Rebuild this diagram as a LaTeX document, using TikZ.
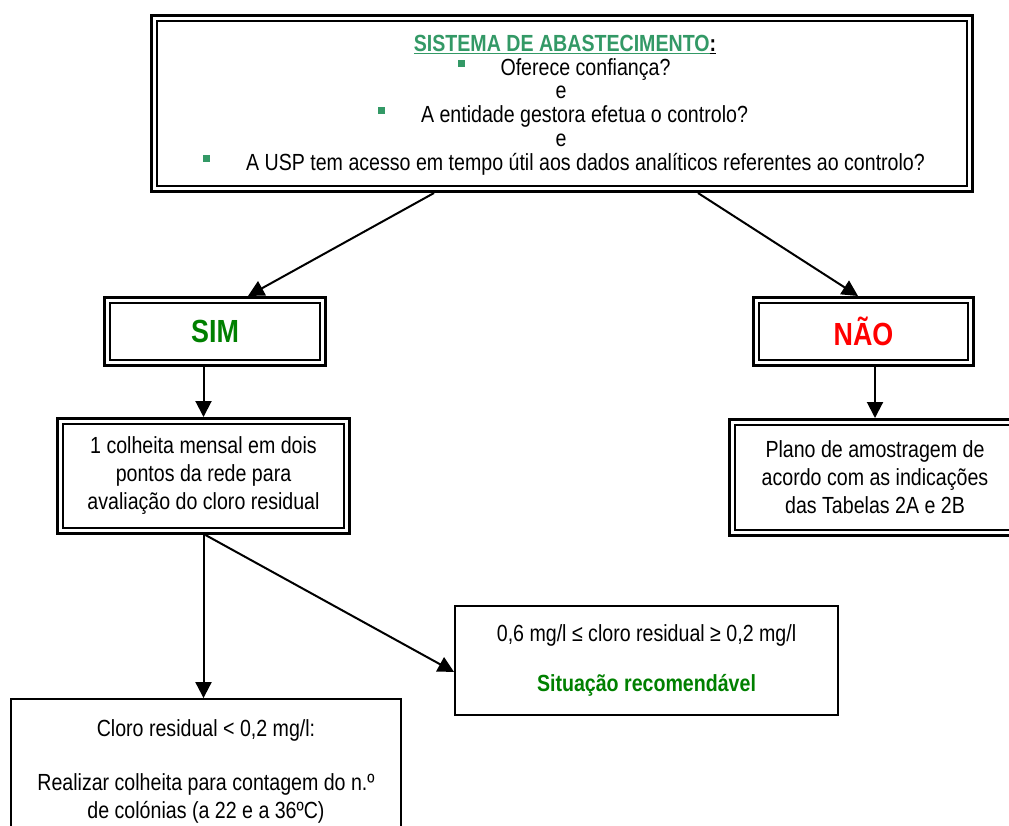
\documentclass[tikz,border=0pt]{standalone}
\usepackage{fontspec}
\setmainfont{Liberation Sans}[FakeStretch=0.84]
\usetikzlibrary{arrows.meta}
\definecolor{seagreen}{HTML}{339966}
\definecolor{simgreen}{HTML}{008000}
\definecolor{naored}{HTML}{FF0000}
\newcommand{\bsq}{\textcolor{seagreen}{\rule[6pt]{5.25pt}{5.25pt}}}
\tikzset{
  dbl/.style={draw, line width=2.25pt, inner sep=0pt, align=center},
  dblin/.style={line width=1.5pt},
  sgl/.style={draw, line width=1.4pt, inner sep=0pt, align=center},
  arr/.style={line width=1.5pt, -{Triangle[length=12pt,width=12pt]}},
  txt/.style={inner sep=0pt, anchor=base},
  big/.style={font=\fontsize{24}{28}\selectfont\bfseries}
}
\begin{document}
\begin{tikzpicture}[x=0.75pt,y=-0.75pt,font=\fontsize{17.5}{21}\selectfont]
\useasboundingbox (0,0) rectangle (1009,825);
\clip (0,0) rectangle (1009,825);
\fill[white] (0,0) rectangle (1009,825);

% top box
\node[dbl, minimum width=615.75pt, minimum height=132pt] (top) at (562,103.5) {};
\draw[dblin] ([shift={(7,7)}]top.north west) rectangle ([shift={(-7,-7)}]top.south east);
\node[txt] (t1) at (565,51) {\bfseries{\color{seagreen}\underline{SISTEMA DE ABASTECIMENTO}}\underline{:}};
\node[txt] (t2) at (564,75) {\bsq\hspace{27pt}Oferece confiança?};
\node[txt] (t3) at (561,98.5) {e};
\node[txt] (t4) at (563,122) {\bsq\hspace{27pt}A entidade gestora efetua o controlo?};
\node[txt] (t5) at (561,146) {e};
\node[txt] (t6) at (564,170) {\bsq\hspace{27pt}A USP tem acesso em tempo útil aos dados analíticos referentes ao controlo?};

% SIM / NAO
\node[dbl, big, text=simgreen, minimum width=165.75pt, minimum height=51pt] (sim) at (215,331.5) {SIM};
\draw[dblin] ([shift={(7,7)}]sim.north west) rectangle ([shift={(-7,-7)}]sim.south east);
\node[dbl, big, text=naored, minimum width=165pt, minimum height=51pt] (nao) at (863.5,331.5) {NÃO};
\draw[dblin] ([shift={(7,7)}]nao.north west) rectangle ([shift={(-7,-7)}]nao.south east);

% second level
\node[dbl, minimum width=219pt, minimum height=86.25pt] (col) at (203.5,476) {1 colheita mensal em dois\\pontos da rede para\\avaliação do cloro residual};
\draw[dblin] ([shift={(7,7)}]col.north west) rectangle ([shift={(-7,-7)}]col.south east);
\node[dbl, minimum width=218.25pt, minimum height=87pt] (plano) at (875,477.5) {Plano de amostragem de\\acordo com as indicações\\das Tabelas 2A e 2B};
\draw[dblin] ([shift={(7,7)}]plano.north west) rectangle ([shift={(-7,-7)}]plano.south east);

% third level
\node[sgl, minimum width=287.25pt, minimum height=81.75pt] (ok) at (646.5,660.5) {0,6 mg/l ≤ cloro residual ≥ 0,2 mg/l\\[17pt]{\bfseries\color{simgreen}Situação recomendável}};
\node[sgl, minimum width=292.5pt, minimum height=113.25pt] (cloro) at (206,774.5) {};
\node[txt] (c1) at (206,736) {Cloro residual < 0,2 mg/l:};
\node[txt] (c2) at (206,790) {Realizar colheita para contagem do n.º};
\node[txt] (c3) at (206,818) {de colónias (a 22 e a 36ºC)};

% connectors
\draw[arr] (top.south) ++(-128,0) -- ([xshift=24.75pt]sim.north);
\draw[arr] (top.south) ++(136,0) -- ([xshift=-4.125pt]nao.north);
\draw[arr] (sim.south -| col.north) -- (col.north);
\draw[arr] (nao.south -| plano.north) -- (plano.north);
\draw[arr] (col.south) -- (col.south |- cloro.north);
\draw[arr] (col.south) ++(2,0) -- ([yshift=-8.6pt]ok.west);
\end{tikzpicture}
\end{document}
